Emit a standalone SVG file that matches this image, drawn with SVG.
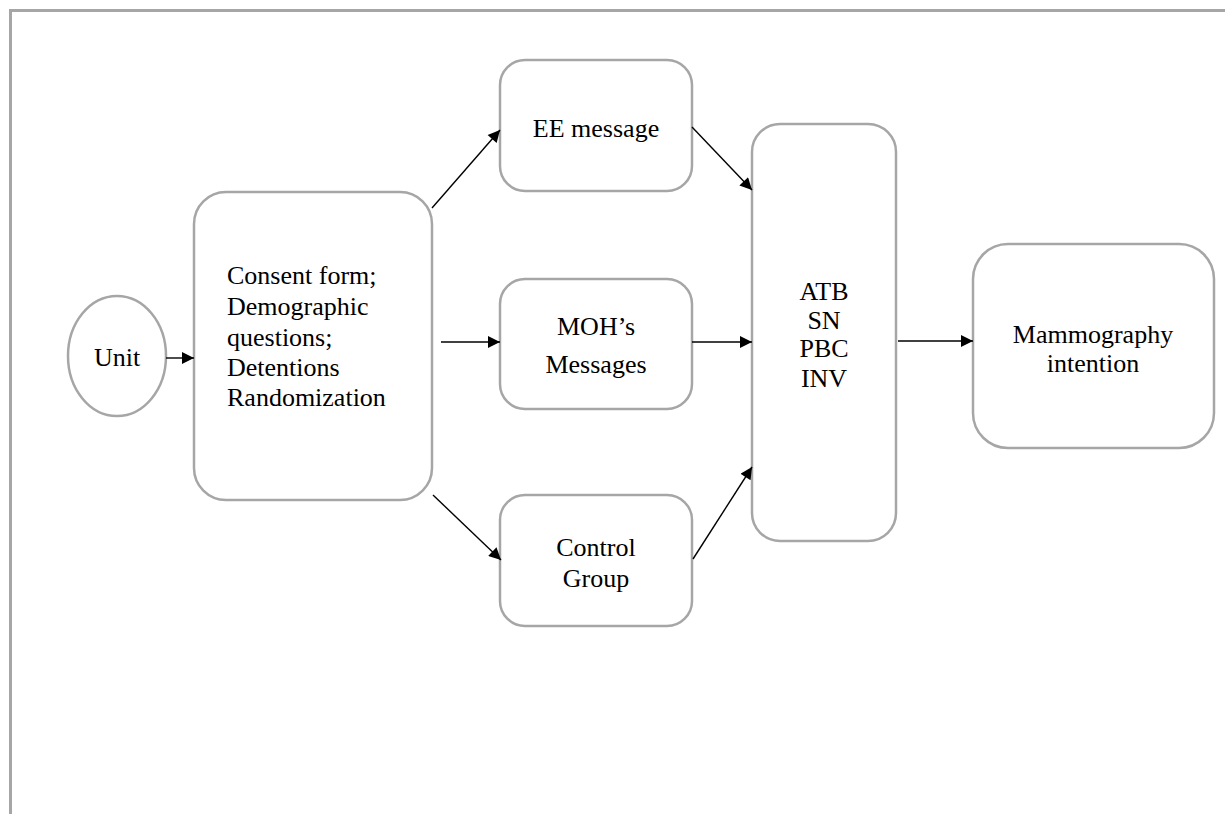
<svg xmlns="http://www.w3.org/2000/svg" width="1225" height="814" viewBox="0 0 1225 814">
<style>
.box{fill:#fff;stroke:#a6a6a6;stroke-width:2.5}
.t{font-family:"Liberation Serif","Times New Roman",serif;font-size:26px;fill:#000}
.c{text-anchor:middle}
.e{stroke:#000;stroke-width:1.4;fill:none;marker-end:url(#ah)}
.frame{stroke:#a6a6a6;stroke-width:3;fill:none}
</style>
<defs>
<marker id="ah" viewBox="0 0 10 10" refX="10" refY="5" markerWidth="15" markerHeight="12" markerUnits="userSpaceOnUse" orient="auto">
<path d="M0,0 L10,5 L0,10 z" fill="#000"/>
</marker>
</defs>
<rect width="1225" height="814" fill="#fff"/>
<path class="frame" d="M10.5,814 V10.5 H1225"/>
<g id="unit">
<ellipse class="box" cx="117" cy="356" rx="49" ry="60"/>
<text class="t c" x="117" y="366">Unit</text>
</g>
<g id="consent">
<rect class="box" x="194" y="192" width="238" height="308" rx="32"/>
<text class="t" x="227" y="284">Consent form;</text>
<text class="t" x="227" y="315">Demographic</text>
<text class="t" x="227" y="346">questions;</text>
<text class="t" x="227" y="376">Detentions</text>
<text class="t" x="227" y="406">Randomization</text>
</g>
<g id="ee">
<rect class="box" x="500" y="60" width="192" height="131" rx="25"/>
<text class="t c" x="596" y="137">EE message</text>
</g>
<g id="moh">
<rect class="box" x="500" y="279" width="192" height="130" rx="25"/>
<text class="t c" x="596" y="335">MOH’s</text>
<text class="t c" x="596" y="373">Messages</text>
</g>
<g id="control">
<rect class="box" x="500" y="495" width="192" height="131" rx="25"/>
<text class="t c" x="596" y="556">Control</text>
<text class="t c" x="596" y="587">Group</text>
</g>
<g id="atb">
<rect class="box" x="752" y="124" width="144" height="417" rx="28"/>
<text class="t c" x="824" y="300">ATB</text>
<text class="t c" x="824" y="329">SN</text>
<text class="t c" x="824" y="357">PBC</text>
<text class="t c" x="824" y="387">INV</text>
</g>
<g id="mammo">
<rect class="box" x="973" y="244" width="241" height="204" rx="35"/>
<text class="t c" x="1093" y="343">Mammography</text>
<text class="t c" x="1093" y="372">intention</text>
</g>
<g id="connectors">
<line class="e" x1="166" y1="358" x2="194" y2="358"/>
<line class="e" x1="432" y1="208" x2="500" y2="130"/>
<line class="e" x1="441" y1="342" x2="500" y2="342"/>
<line class="e" x1="433" y1="495" x2="501" y2="560"/>
<line class="e" x1="692" y1="127" x2="752" y2="190"/>
<line class="e" x1="692" y1="342" x2="752" y2="342"/>
<line class="e" x1="693" y1="559" x2="752" y2="467"/>
<line class="e" x1="898" y1="341" x2="973" y2="341"/>
</g>
</svg>
